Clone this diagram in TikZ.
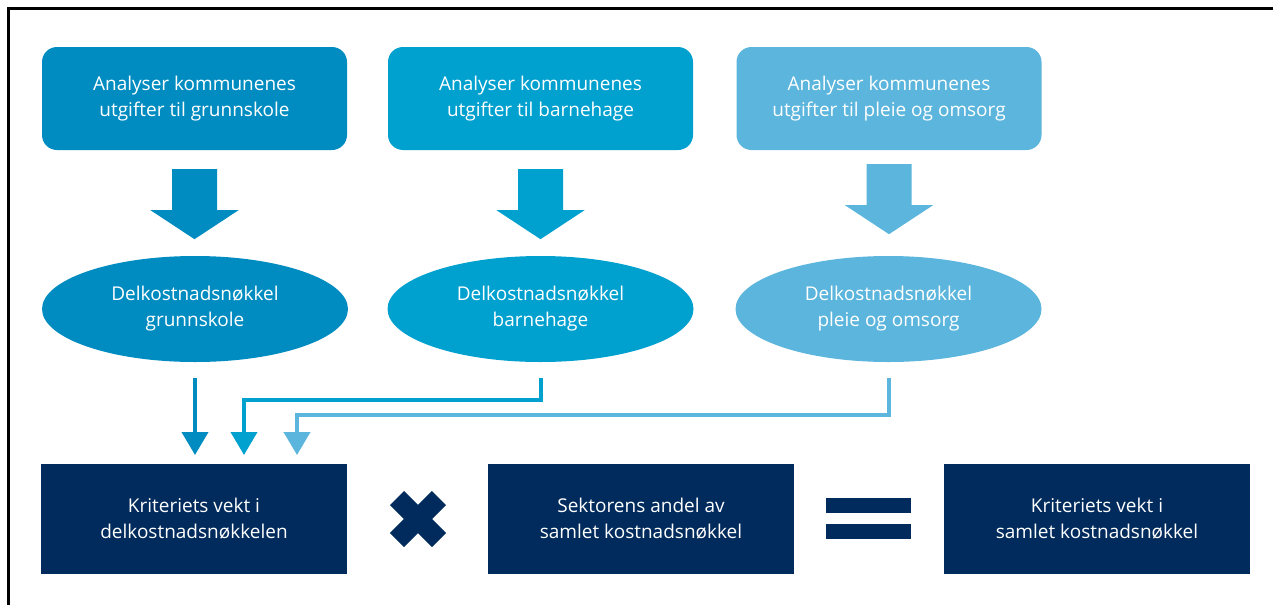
\documentclass[tikz,border=0pt]{standalone}
\usepackage{fontspec}
\setmainfont{Open Sans}
\usepackage{tikz}
\usetikzlibrary{calc}
\usetikzlibrary{arrows.meta}
\usetikzlibrary{shapes.geometric}
\definecolor{blueA}{RGB}{0,140,192}
\definecolor{blueB}{RGB}{0,160,207}
\definecolor{blueC}{RGB}{91,181,220}
\definecolor{navy}{RGB}{0,43,92}
\def\blockdown(#1)#2#3{
    \fill [#2] ($(#1.south)+(-22.5,#3)$) -- ($(#1.south)+(22.5,#3)$)
        -- ($(#1.south)+(22.5,#3+41)$) -- ($(#1.south)+(44,#3+41)$)
        -- ($(#1.south)+(0,#3+70)$) -- ($(#1.south)+(-44,#3+41)$)
        -- ($(#1.south)+(-22.5,#3+41)$) -- cycle;
}
\tikzstyle{every node}=[font=\fontsize{19}{26}\selectfont, text=white, align=center, inner sep=0pt]
\tikzstyle{task}=[rounded corners=15pt, minimum width=305pt, minimum height=103pt]
\tikzstyle{subkey}=[ellipse, minimum width=306pt, minimum height=106pt]
\tikzstyle{result}=[minimum width=306pt, minimum height=110pt, fill=navy]
\tikzstyle{link}=[line width=4pt, -{Triangle[width=26pt,length=23pt]}]

\begin{document}
\begin{tikzpicture}[x=1pt, y=-1pt]
    \useasboundingbox (0, 0) rectangle (1273, 605);
    \draw [line width=3pt] (8.5, 605) -- (8.5, 8.5) -- (1273, 8.5);

    \node [task, fill=blueA] (t1) at (194.5, 98.5) {Analyser kommunenes\\utgifter til grunnskole};
    \node [task, fill=blueB] (t2) at (540.5, 98.5) {Analyser kommunenes\\utgifter til barnehage};
    \node [task, fill=blueC] (t3) at (889, 98.5) {Analyser kommunenes\\utgifter til pleie og omsorg};

    \node [subkey, fill=blueA] (e1) at (195, 309) {Delkostnadsnøkkel\\grunnskole};
    \node [subkey, fill=blueB] (e2) at (540.5, 309) {Delkostnadsnøkkel\\barnehage};
    \node [subkey, fill=blueC] (e3) at (888.5, 309) {Delkostnadsnøkkel\\pleie og omsorg};

    \blockdown(t1){blueA}{19}
    \blockdown(t2){blueB}{19}
    \blockdown(t3){blueC}{14}

    \node [result] (r1) at (194, 519) {Kriteriets vekt i\\delkostnadsnøkkelen};
    \node [result] (r2) at (641, 519) {Sektorens andel av\\samlet kostnadsnøkkel};
    \node [result] (r3) at (1097, 519) {Kriteriets vekt i\\samlet kostnadsnøkkel};

    \coordinate (in1) at (195, 455);
    \coordinate (in2) at (244, 455);
    \coordinate (in3) at (297, 455);

    \draw [link, blueA] ($(e1.south)+(0, 16)$) -- (in1);
    \draw [link, blueB] ($(e2.south)+(0, 16)$) -- ($(e2.south)+(0, 38)$) -| (in2);
    \draw [link, blueC] ($(e3.south)+(0, 16)$) -- ($(e3.south)+(0, 53)$) -| (in3);

    \draw [navy, line width=20pt] (397, 498) -- (439, 540) (397, 540) -- (439, 498);
    \fill [navy] (826, 498) rectangle (911, 513);
    \fill [navy] (826, 524) rectangle (911, 539);
\end{tikzpicture}
\end{document}
